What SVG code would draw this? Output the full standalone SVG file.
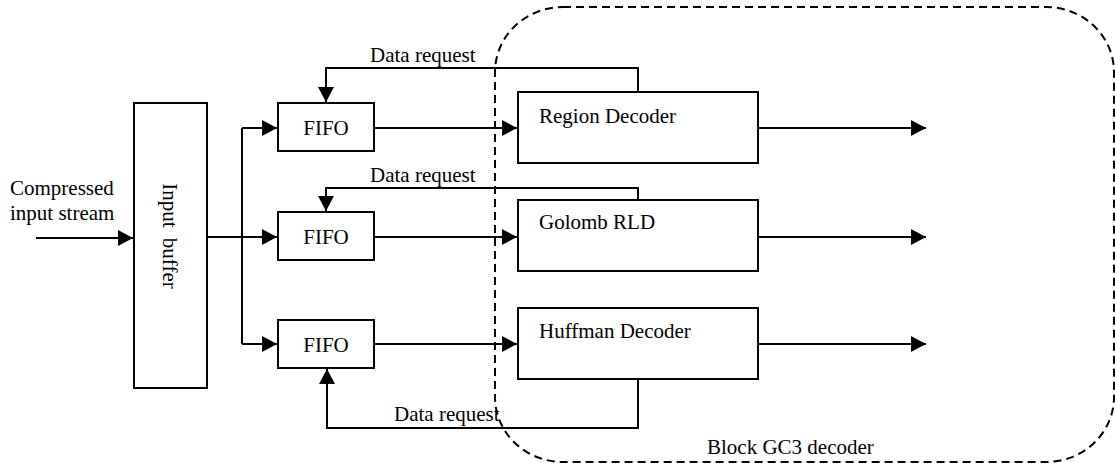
<svg xmlns="http://www.w3.org/2000/svg" width="1115" height="463" viewBox="0 0 1115 463">
<defs>
<marker id="arr" markerUnits="userSpaceOnUse" markerWidth="16" markerHeight="16" refX="15" refY="8" orient="auto">
<path d="M0,0 L15,8 L0,16 z" fill="#000"/>
</marker>
<style>
.box{fill:#fff;stroke:#000;stroke-width:2}
.ln{fill:none;stroke:#000;stroke-width:2}
.ar{fill:none;stroke:#000;stroke-width:2;marker-end:url(#arr)}
.t{font-family:"Liberation Serif","Times New Roman",serif;font-size:21px;fill:#000}
.dash{fill:none;stroke:#000;stroke-width:2;stroke-dasharray:8,5}
</style>
</defs>
<rect width="1115" height="463" fill="#fff"/>
<g id="connectors">
<path class="ar" d="M36,238 L133,238"/>
<path class="ar" d="M207,237 L277,237"/>
<path class="ln" d="M242,128 L242,344"/>
<path class="ar" d="M242,128 L277,128"/>
<path class="ar" d="M242,344 L277,344"/>
<path class="ar" d="M374,128 L517,128"/>
<path class="ar" d="M374,237 L517,237"/>
<path class="ar" d="M374,344 L517,344"/>
<path class="ar" d="M758,128 L926,128"/>
<path class="ar" d="M758,237 L926,237"/>
<path class="ar" d="M758,344 L926,344"/>
<path class="ar" d="M638,92 L638,68 L326,68 L326,102"/>
<path class="ar" d="M638,200 L638,188 L326,188 L326,211"/>
<path class="ar" d="M638,379 L638,428 L327,428 L327,369"/>
<text class="t" x="370" y="62">Data request</text>
<text class="t" x="370" y="182">Data request</text>
<text class="t" x="394" y="421">Data request</text>
</g>
<g id="input-label">
<text class="t" x="10" y="195">Compressed</text>
<text class="t" x="10" y="220">input stream</text>
</g>
<g id="input-buffer">
<rect class="box" x="134" y="103" width="73" height="285"/>
<text class="t" transform="translate(170,236) rotate(90)" text-anchor="middle" dominant-baseline="central" word-spacing="5">Input buffer</text>
</g>
<g id="fifo1">
<rect class="box" x="278" y="103" width="96" height="48"/>
<text class="t" x="326" y="135" text-anchor="middle">FIFO</text>
</g>
<g id="fifo2">
<rect class="box" x="278" y="212" width="96" height="48"/>
<text class="t" x="326" y="244" text-anchor="middle">FIFO</text>
</g>
<g id="fifo3">
<rect class="box" x="278" y="320" width="96" height="48"/>
<text class="t" x="326" y="352" text-anchor="middle">FIFO</text>
</g>
<g id="region-decoder">
<rect class="box" x="518" y="92" width="240" height="71"/>
<text class="t" x="539" y="123">Region Decoder</text>
</g>
<g id="golomb-rld">
<rect class="box" x="518" y="200" width="240" height="71"/>
<text class="t" x="539" y="229">Golomb RLD</text>
</g>
<g id="huffman-decoder">
<rect class="box" x="518" y="308" width="240" height="71"/>
<text class="t" x="539" y="338">Huffman Decoder</text>
</g>
<g id="block-gc3">
<rect class="dash" x="495" y="7" width="619" height="455" rx="68" ry="65"/>
<text class="t" x="707" y="454">Block GC3 decoder</text>
</g>
</svg>
